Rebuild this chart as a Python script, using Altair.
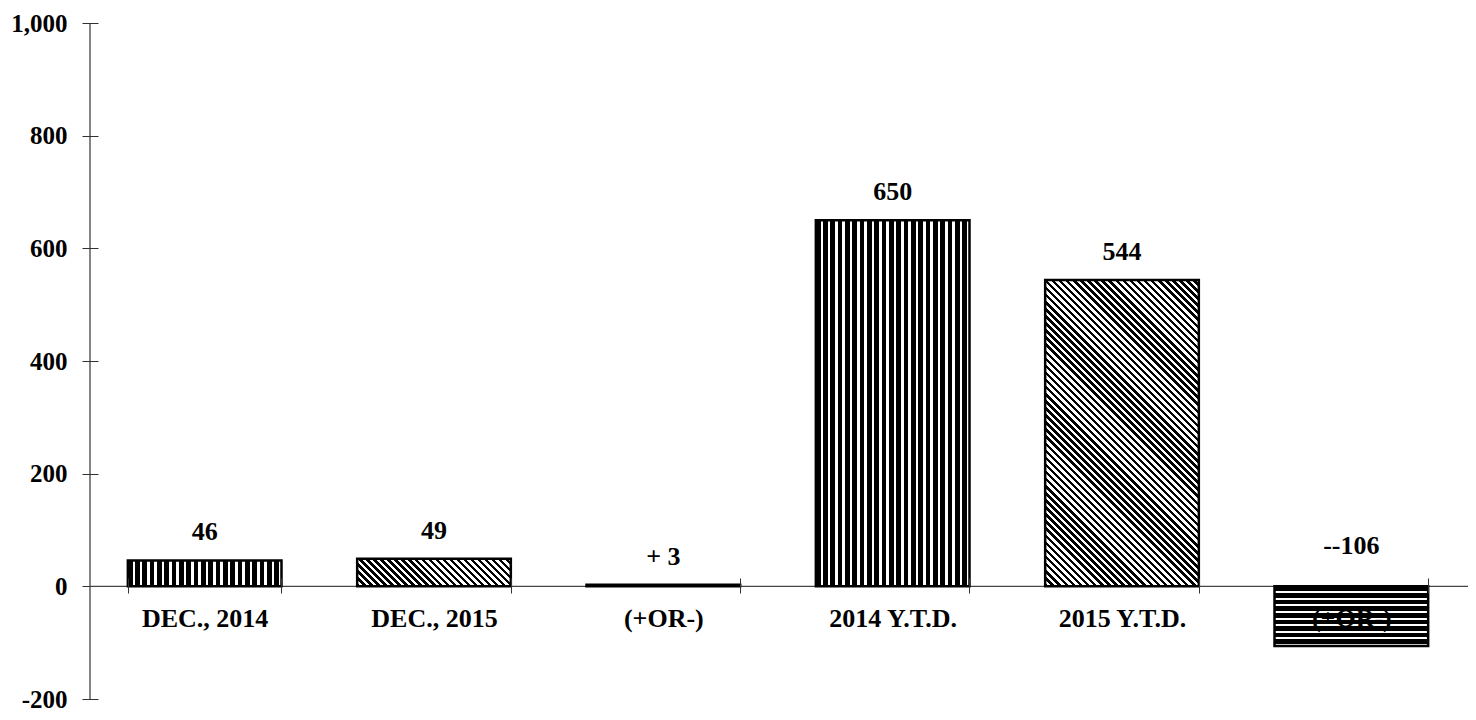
import altair as alt
import pandas as pd
import json
import math

# ---- data ----
categories = ["DEC., 2014", "DEC., 2015", "(+OR-)", "2014 Y.T.D.", "2015 Y.T.D.", "(+OR-)"]
values = [46, 49, 3, 650, 544, -106]
value_labels = ["46", "49", "+ 3", "650", "544", "--106"]
y_ticks = [-200, 0, 200, 400, 600, 800, 1000]

# ---- layout / style ----
W, H = 1376, 676
YMIN, YMAX = -200, 1000
PAD_INNER = 0.33
FONT = "Liberation Serif"
FS = 26
FS_Y = 25
pattern_of = {0: "vertical", 1: "diagonal", 2: "solid", 3: "vertical", 4: "diagonal", 5: "horizontal"}

df = pd.DataFrame({
    "idx": list(range(len(categories))),
    "value": values,
    "label": value_labels,
})

step = W / len(categories)
bar_w = step * (1 - PAD_INNER)
ppu = H / (YMAX - YMIN)
zero_from_bottom = (0 - YMIN) * ppu


def make_stops(n, black):
    s = []
    for k in range(n):
        a = round(k / n, 6)
        b = round(min(1.0, (k + black) / n), 6)
        c = round(min(1.0, (k + 1) / n), 6)
        s += [
            {"offset": a, "color": "black"},
            {"offset": b, "color": "black"},
            {"offset": b, "color": "white"},
            {"offset": c, "color": "white"},
        ]
    return s


def fill_for(i):
    kind = pattern_of[i]
    h = abs(values[i]) * ppu
    w = bar_w
    if kind == "solid":
        return "black"
    if kind == "vertical":
        n = max(1, round(w / 7.3))
        return {"gradient": "linear", "x1": 0, "y1": 0, "x2": 1, "y2": 0,
                "stops": make_stops(n, 0.64)}
    if kind == "horizontal":
        n = max(1, round(h / 6.7))
        return {"gradient": "linear", "x1": 0, "y1": 0, "x2": 0, "y2": 1,
                "stops": make_stops(n, 0.7)}
    # diagonal "\" stripes at 45 degrees in pixel space
    k = (w + h) / (w * w + h * h)
    n = max(1, round((w + h) / math.sqrt(2) / 5.0))
    return {"gradient": "linear", "x1": 0, "y1": 1, "x2": round(k * w, 6), "y2": round(1 - k * h, 6),
            "stops": make_stops(n, 0.5)}


x_axis = alt.Axis(
    title=None, orient="bottom", offset=-round(zero_from_bottom + 8), domain=False,
    ticks=True, tickBand="extent", tickSize=15, tickColor="#333", tickWidth=1,
    labelPadding=12, labelFont=FONT, labelFontSize=FS, labelFontWeight="bold",
    labelColor="black", labelAngle=0, labelLimit=400,
    labelExpr=json.dumps(categories) + "[datum.value]", zindex=1, grid=False,
)
y_axis = alt.Axis(
    title=None, orient="left", offset=-8, domain=False, values=y_ticks,
    tickSize=16, tickColor="#333", tickWidth=1, labelPadding=15,
    labelFont=FONT, labelFontSize=FS_Y, labelFontWeight="bold", labelColor="black",
    labelExpr="datum.value < 0 ? '-' + format(-datum.value, ',') : format(datum.value, ',')",
    grid=False,
)

x_enc = alt.X("idx:O", scale=alt.Scale(paddingInner=PAD_INNER, paddingOuter=PAD_INNER / 2), axis=x_axis)
y_scale = alt.Scale(domain=[YMIN, YMAX], nice=False, zero=False)

base = alt.Chart(df)

layers = []
# axis lines
layers.append(
    alt.Chart(pd.DataFrame({"a": [0]})).mark_rule(color="#333", strokeWidth=1.2).encode(
        x=alt.value(0), y=alt.Y(datum=YMIN, scale=y_scale, axis=y_axis), y2=alt.datum(YMAX)
    )
)
layers.append(
    alt.Chart(pd.DataFrame({"a": [0]})).mark_rule(color="#444", strokeWidth=1.2).encode(
        y=alt.Y(datum=0, scale=y_scale, axis=y_axis), x=alt.value(0), x2=alt.value(W + 4)
    )
)

for i in range(len(categories)):
    layers.append(
        base.transform_filter(alt.datum.idx == i)
        .mark_bar(fill=fill_for(i), stroke="black", strokeWidth=2.5)
        .encode(x=x_enc, y=alt.Y("value:Q", scale=y_scale, axis=y_axis))
    )

text_props = dict(font=FONT, fontSize=FS, fontWeight="bold", color="black", baseline="alphabetic")
layers.append(
    base.transform_filter("datum.value >= 0").transform_calculate(ly="max(datum.value, 0)")
    .mark_text(dy=-20, **text_props)
    .encode(x=x_enc, y=alt.Y("ly:Q", scale=y_scale, axis=y_axis), text="label:N")
)
layers.append(
    base.transform_filter("datum.value < 0").transform_calculate(ly="max(datum.value, 0)")
    .mark_text(dy=-32, **text_props)
    .encode(x=x_enc, y=alt.Y("ly:Q", scale=y_scale, axis=y_axis), text="label:N")
)

chart = (
    alt.layer(*layers)
    .properties(
        width=W, height=H,
        autosize=alt.AutoSizeParams(type="none"),
        padding={"left": 82, "top": 15, "right": 2, "bottom": 13},
        background="white",
    )
    .configure_view(stroke=None)
)

chart.save("out.html", embed_options={"renderer": "svg", "actions": False})
